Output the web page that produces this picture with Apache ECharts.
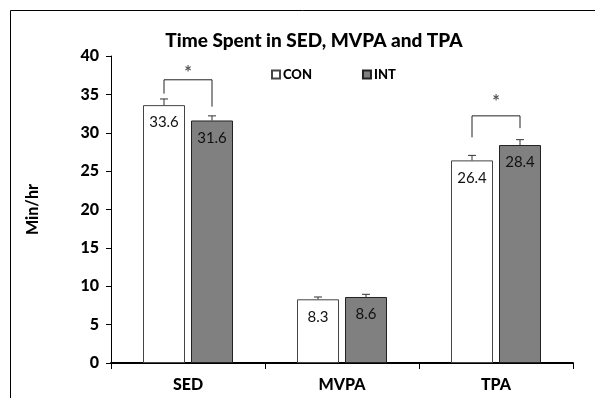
<!DOCTYPE html>
<html><head><meta charset="utf-8">
<script src="https://cdn.jsdelivr.net/npm/echarts@6/dist/echarts.min.js"></script>
<style>html,body{margin:0;padding:0;background:#fff}#c{width:595px;height:398px}</style>
</head><body><div id="c"></div>
<script>
const categories = ['SED', 'MVPA', 'TPA'];
const seriesNames = ['CON', 'INT'];
const conValues = [33.6, 8.3, 26.4];
const intValues = [31.6, 8.6, 28.4];
const conErrors = [0.8, 0.3, 0.65];
const intErrors = [0.6, 0.35, 0.7];
// significance brackets: [category index, top, left leg bottom, right leg bottom, star level]
const brackets = [[0, 36.9, 35.1, 33.4, 38.1], [2, 32.2, 29.4, 30.6, 34.4]];
const yTicks = [0, 5, 10, 15, 20, 25, 30, 35, 40];

const FONT = 'Lato';
const BAR_W = 42, GAP = 6;
const OFF = (BAR_W + GAP) / 2;

const chart = echarts.init(document.getElementById('c'), null, {renderer: 'canvas'});

function errItem(sign) {
  return function (params, api) {
    const i = api.value(0);
    const v = api.value(1), e = api.value(2);
    const top = api.coord([i, v + e]);
    const base = api.coord([i, v]);
    const x = top[0] + sign * OFF;
    return {type: 'group', children: [
      {type: 'line', shape: {x1: x, y1: base[1], x2: x, y2: top[1]}, style: {stroke: '#333', lineWidth: 1}},
      {type: 'line', shape: {x1: x - 4, y1: top[1], x2: x + 4, y2: top[1]}, style: {stroke: '#333', lineWidth: 1}}
    ]};
  };
}

const option = {
  animation: false,
  backgroundColor: '#fff',
  title: {text: 'Time Spent in SED, MVPA and TPA', left: 309, top: 26, textAlign: 'center',
    textStyle: {fontFamily: FONT, fontWeight: 900, fontSize: 19, color: '#000'}},
  legend: {data: seriesNames, left: 266, top: 63, itemWidth: 8, itemHeight: 8, itemGap: 50,
    icon: 'rect',
    textStyle: {fontFamily: FONT, fontWeight: 900, fontSize: 13, color: '#000', padding: [0,0,0,-2]}},
  grid: {left: 111, right: 22, top: 56, bottom: 35},
  xAxis: {type: 'category', data: categories,
    axisLine: {lineStyle: {color: '#000', width: 2}},
    axisTick: {show: true, length: 6, lineStyle: {color: '#000', width: 1}},
    axisLabel: {fontFamily: FONT, fontWeight: 900, fontSize: 16, color: '#000', margin: 14}},
  yAxis: {type: 'value', min: 0, max: 40, interval: 5,
    name: 'Min/hr', nameLocation: 'middle', nameGap: 70, nameRotate: 90,
    nameTextStyle: {fontFamily: FONT, fontWeight: 900, fontSize: 16, color: '#000'},
    splitLine: {show: false},
    axisLine: {show: true, lineStyle: {color: '#000', width: 1}},
    axisTick: {show: true, length: 5, lineStyle: {color: '#000'}},
    axisLabel: {fontFamily: FONT, fontWeight: 900, fontSize: 16, color: '#000', margin: 12,
      formatter: v => yTicks.includes(v) ? String(v) : ''}},
  series: [
    {name: 'CON', type: 'bar', data: conValues, barWidth: BAR_W, barGap: (GAP / BAR_W * 100) + '%',
      itemStyle: {color: '#fff', borderColor: '#444', borderWidth: 1},
      label: {show: true, position: 'insideTop', distance: 10, fontFamily: FONT, fontSize: 15, color: '#111'}},
    {name: 'INT', type: 'bar', data: intValues, barWidth: BAR_W,
      itemStyle: {color: '#808080', borderColor: '#222', borderWidth: 1},
      label: {show: true, position: 'insideTop', distance: 10, fontFamily: FONT, fontSize: 15, color: '#111'}},
    {type: 'custom', name: 'errCON', renderItem: errItem(-1),
      data: conValues.map((v, i) => [i, v, conErrors[i]]), z: 5, silent: true},
    {type: 'custom', name: 'errINT', renderItem: errItem(1),
      data: intValues.map((v, i) => [i, v, intErrors[i]]), z: 5, silent: true},
    {type: 'custom', name: 'brackets', silent: true, z: 5,
      data: brackets,
      renderItem: function (params, api) {
        const i = api.value(0);
        const t = api.coord([i, api.value(1)]);
        const l = api.coord([i, api.value(2)]);
        const r = api.coord([i, api.value(3)]);
        const s = api.coord([i, api.value(4)]);
        const xl = t[0] - OFF, xr = t[0] + OFF;
        return {type: 'group', children: [
          {type: 'polyline', shape: {points: [[xl, l[1]], [xl, t[1]], [xr, t[1]], [xr, r[1]]]},
            style: {stroke: '#222', lineWidth: 1, fill: null}},
          {type: 'text', style: {text: '*', x: t[0], y: s[1] + 3, align: 'center', verticalAlign: 'middle',
            fontFamily: FONT, fontWeight: 'bold', fontSize: 18, fill: '#555'}}
        ]};
      }}
  ],
  graphic: [
    {type: 'polyline', silent: true, shape: {points: [[10.5, 398], [10.5, 10.5], [595, 10.5]]},
      style: {stroke: '#000', lineWidth: 1, fill: null}}
  ]
};
option.color = ['#fff', '#808080'];
chart.setOption(option);
</script></body></html>
